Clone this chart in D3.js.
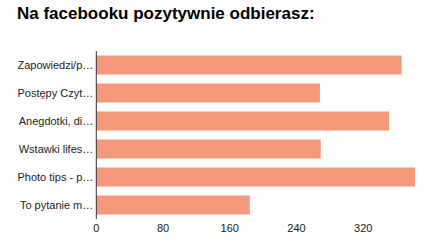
<!DOCTYPE html>
<html>
<head>
<meta charset="utf-8">
<script src="https://cdn.jsdelivr.net/npm/d3@7"></script>
<style>
  body { margin: 0; background: #fff; }
  text { font-family: "Liberation Sans", Arial, sans-serif; }
</style>
</head>
<body>
<svg id="chart"></svg>
<script>
var categories = ['Zapowiedzi/p…', 'Postępy Czyt…', 'Anegdotki, di…', 'Wstawki lifes…', 'Photo tips - p…', 'To pytanie m…'];
var values = [366, 268, 351, 269, 382, 184];
var ticks = [0, 80, 160, 240, 320];

var data = categories.map(function(c, i){ return {name: c, value: values[i]}; });

var width = 431;
var height = 243;
var margin = {top: 51, bottom: 24, left: 96.3, right: 16};

var svg = d3.select('#chart')
            .attr('width', width)
            .attr('height', height);

svg.append('text')
   .attr('x', 17)
   .attr('y', 19)
   .attr('font-size', 17)
   .attr('font-weight', 'bold')
   .attr('fill', '#000')
   .text('Na facebooku pozytywnie odbierasz:');

var xScale = d3.scaleLinear()
               .domain([0, 320])
               .range([margin.left, margin.left + 267]);

var yScale = d3.scaleBand()
               .domain(categories)
               .range([margin.top, height - margin.bottom])
               .paddingInner(0.32)
               .paddingOuter(0.16);

svg.selectAll('rect.bar')
   .data(data)
   .enter()
   .append('rect')
   .attr('class', 'bar')
   .attr('x', xScale(0))
   .attr('y', function(d){ return yScale(d.name); })
   .attr('width', function(d){ return xScale(d.value) - xScale(0); })
   .attr('height', yScale.bandwidth())
   .attr('fill', '#f49a7c');

// y axis line and labels
svg.append('line')
   .attr('x1', xScale(0)).attr('x2', xScale(0))
   .attr('y1', margin.top).attr('y2', height - margin.bottom)
   .attr('stroke', '#333').attr('stroke-width', 1);

svg.selectAll('text.cat')
   .data(data)
   .enter()
   .append('text')
   .attr('class', 'cat')
   .attr('x', xScale(0) - 3)
   .attr('y', function(d){ return yScale(d.name) + yScale.bandwidth() / 2; })
   .attr('dy', '0.35em')
   .attr('text-anchor', 'end')
   .attr('font-size', 11)
   .attr('fill', '#222')
   .text(function(d){ return d.name; });

svg.selectAll('text.tick')
   .data(ticks)
   .enter()
   .append('text')
   .attr('class', 'tick')
   .attr('x', function(d){ return xScale(d); })
   .attr('y', 232)
   .attr('text-anchor', 'middle')
   .attr('font-size', 11)
   .attr('fill', '#222')
   .text(function(d){ return d; });
</script>
</body>
</html>
